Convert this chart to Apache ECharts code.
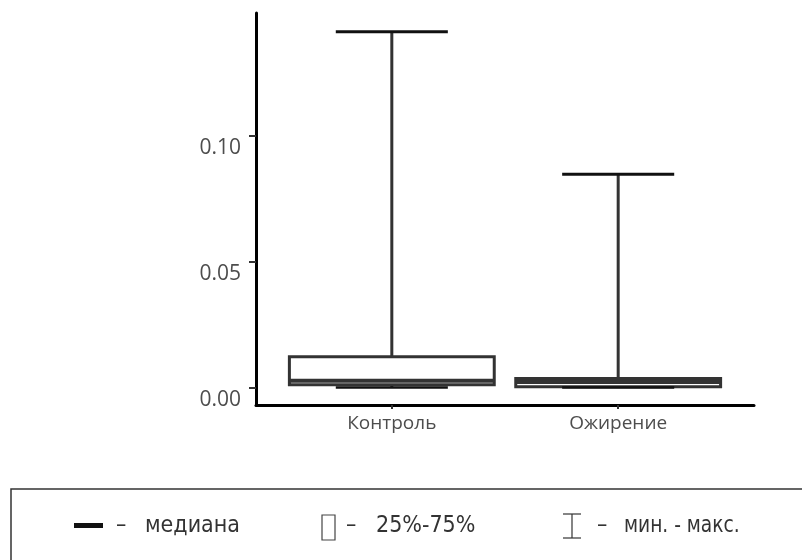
<!DOCTYPE html>
<html>
<head>
<meta charset="utf-8">
<script src="https://cdn.jsdelivr.net/npm/echarts@6/dist/echarts.min.js"></script>
<style>html,body{margin:0;padding:0;background:#fff;}#c{width:802px;height:560px;}</style>
</head>
<body>
<div id="c"></div>
<script>
const categories = ['Контроль', 'Ожирение'];
const minValues = [0.0000, 0.0000];
const q1Values = [0.0011, 0.0003];
const medianValues = [0.0027, 0.0022];
const q3Values = [0.0123, 0.0036];
const maxValues = [0.1413, 0.0847];
const yTickValues = [0, 0.05, 0.10];
const legendLabels = ['медиана', '25%-75%', 'мин. - макс.'];

const categoryPositions = categories.map((c, i) => i + 1);
const boxData = categories.map((c, i) => [categoryPositions[i], minValues[i], q1Values[i], medianValues[i], q3Values[i], maxValues[i]]);

const chart = echarts.init(document.getElementById('c'), null, {renderer: 'canvas'});
const axisFont = 'Open Sans';
const legendFont = '"Liberation Sans Narrow", "DejaVu Sans Condensed", sans-serif';

function renderBox(params, api) {
  const x = api.value(0);
  const pMin = api.coord([x, api.value(1)]);
  const pQ1 = api.coord([x, api.value(2)]);
  const pMed = api.coord([x, api.value(3)]);
  const pQ3 = api.coord([x, api.value(4)]);
  const pMax = api.coord([x, api.value(5)]);
  const boxW = api.size([0.905, 0])[0];
  const capW = api.size([0.495, 0])[0];
  const cx = pQ1[0];
  return {
    type: 'group',
    children: [
      {type: 'line', shape: {x1: cx, y1: pQ3[1], x2: cx, y2: pMax[1]}, style: {stroke: '#333', lineWidth: 3}},
      {type: 'line', shape: {x1: cx, y1: pQ1[1], x2: cx, y2: pMin[1]}, style: {stroke: '#333', lineWidth: 3}},
      {type: 'rect', shape: {x: cx - boxW / 2, y: pQ3[1], width: boxW, height: pQ1[1] - pQ3[1]}, style: {fill: '#fff', stroke: '#333', lineWidth: 3}},
      {type: 'line', shape: {x1: cx - boxW / 2, y1: pMed[1], x2: cx + boxW / 2, y2: pMed[1]}, style: {stroke: '#333', lineWidth: 4}},
      {type: 'line', shape: {x1: cx - capW / 2, y1: pMax[1], x2: cx + capW / 2, y2: pMax[1]}, style: {stroke: '#111', lineWidth: 3}},
      {type: 'line', shape: {x1: cx - capW / 2, y1: pMin[1], x2: cx + capW / 2, y2: pMin[1]}, style: {stroke: '#111', lineWidth: 2.5}}
    ]
  };
}

const legendTextStyle = {fill: '#333', font: '23px ' + legendFont, verticalAlign: 'middle', align: 'left'};

chart.setOption({
  animation: false,
  backgroundColor: '#fff',
  grid: {left: 256, right: 48, top: 13, bottom: 155, containLabel: false},
  xAxis: {
    type: 'value', min: 0.4, max: 2.6,
    splitLine: {show: false},
    axisLine: {show: true, onZero: false, lineStyle: {color: '#000', width: 3}},
    axisTick: {show: true, customValues: categoryPositions, length: 4, lineStyle: {color: '#333', width: 2}},
    axisLabel: {customValues: categoryPositions, formatter: v => categories[Math.round(v) - 1], color: '#4d4d4d', fontFamily: axisFont, fontSize: 19, margin: 9}
  },
  yAxis: {
    type: 'value', min: -0.0069, max: 0.1487,
    splitLine: {show: false},
    axisLine: {show: true, onZero: false, lineStyle: {color: '#000', width: 3}},
    axisTick: {show: true, customValues: yTickValues, length: 7, lineStyle: {color: '#333', width: 2}},
    axisLabel: {customValues: yTickValues, formatter: v => v.toFixed(2), color: '#4d4d4d', fontFamily: axisFont, fontSize: 21, margin: 15, verticalAlign: 'top', lineHeight: 24}
  },
  series: [{
    type: 'custom',
    renderItem: renderBox,
    data: boxData,
    encode: {x: 0, y: [1, 2, 3, 4, 5]},
    clip: false
  }],
  graphic: [
    {type: 'rect', shape: {x: 11, y: 489, width: 830, height: 120}, style: {fill: 'none', stroke: '#333', lineWidth: 1.5}},
    {type: 'rect', shape: {x: 74, y: 523, width: 29, height: 5}, style: {fill: '#111'}},
    {type: 'text', x: 116, y: 526, style: Object.assign({text: '–'}, legendTextStyle)},
    {type: 'text', x: 145, y: 526, style: Object.assign({text: legendLabels[0]}, legendTextStyle)},
    {type: 'rect', shape: {x: 322, y: 515, width: 13, height: 25}, style: {fill: 'none', stroke: '#444', lineWidth: 1.2}},
    {type: 'text', x: 346, y: 526, style: Object.assign({text: '–'}, legendTextStyle)},
    {type: 'text', x: 376, y: 526, style: Object.assign({text: legendLabels[1]}, legendTextStyle)},
    {type: 'line', shape: {x1: 572, y1: 514, x2: 572, y2: 538}, style: {stroke: '#333', lineWidth: 1.2}},
    {type: 'line', shape: {x1: 563, y1: 514, x2: 581, y2: 514}, style: {stroke: '#333', lineWidth: 1.2}},
    {type: 'line', shape: {x1: 563, y1: 538, x2: 581, y2: 538}, style: {stroke: '#333', lineWidth: 1.2}},
    {type: 'text', x: 597, y: 526, style: Object.assign({text: '–'}, legendTextStyle)},
    {type: 'text', x: 624, y: 526, scaleX: 0.9, style: Object.assign({text: legendLabels[2]}, legendTextStyle)}
  ]
});
</script>
</body>
</html>
